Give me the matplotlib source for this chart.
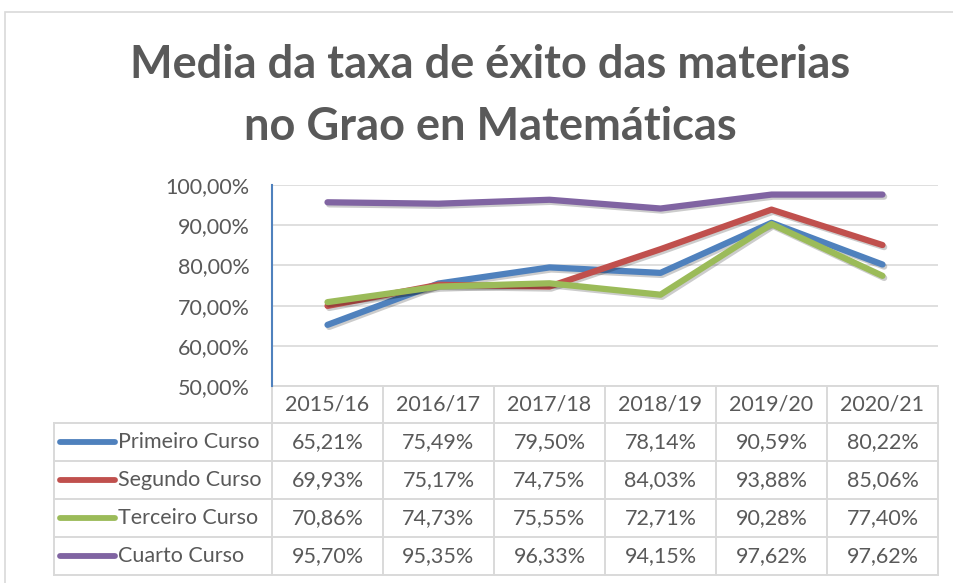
import matplotlib
matplotlib.use("Agg")
import matplotlib.pyplot as plt
import matplotlib.patheffects as pe
from matplotlib.lines import Line2D
from matplotlib.patches import Rectangle

categories = ["2015/16", "2016/17", "2017/18", "2018/19", "2019/20", "2020/21"]
series_names = ["Primeiro Curso", "Segundo Curso", "Terceiro Curso", "Cuarto Curso"]
primeiro = [65.21, 75.49, 79.50, 78.14, 90.59, 80.22]
segundo = [69.93, 75.17, 74.75, 84.03, 93.88, 85.06]
terceiro = [70.86, 74.73, 75.55, 72.71, 90.28, 77.40]
cuarto = [95.70, 95.35, 96.33, 94.15, 97.62, 97.62]
yticks = [50, 60, 70, 80, 90, 100]
colors = ["#4F81BD", "#C0504D", "#9BBB59", "#8064A2"]

series = [primeiro, segundo, terceiro, cuarto]

def fmt(v):
    return f"{v:.2f}".replace(".", ",") + "%"

W, H = 954, 583
fig = plt.figure(figsize=(W / 100, H / 100), dpi=100)
fig.patch.set_facecolor("white")

# outer chart border
fig.add_artist(Rectangle((5 / W, -0.1), 1.2, (H - 12) / H + 0.1, transform=fig.transFigure,
                         fill=False, edgecolor="#D9D9D9", linewidth=1.2))

L, R, T, B = 272, 938, 185, 386
ax = fig.add_axes([L / W, 1 - B / H, (R - L) / W, (B - T) / H])
ax.set_xlim(-0.5, len(categories) - 0.5)
ax.set_ylim(50, 100)
ax.set_yticks(yticks)
ax.set_yticklabels([fmt(v) for v in yticks])
ax.set_xticks([])
ax.grid(axis="y", color="#D9D9D9", linewidth=1.2)
ax.set_axisbelow(True)
for s in ["top", "right", "bottom"]:
    ax.spines[s].set_visible(False)
ax.spines["left"].set_color("#4F81BD")
ax.spines["left"].set_linewidth(1.5)
ax.tick_params(axis="y", length=0, pad=16, labelsize=15.5, labelcolor="#595959")
for lab in ax.get_yticklabels():
    lab.set_fontfamily("Lato")

x = list(range(len(categories)))
for vals, c in zip(series, colors):
    ax.plot(x, vals, color=c, linewidth=4.5, solid_capstyle="round", solid_joinstyle="round",
            path_effects=[pe.SimpleLineShadow(offset=(1.2, -1.5), shadow_color="black", alpha=0.2),
                          pe.Normal()])

# Data table
row_edges = [0, -0.184, -0.373, -0.562, -0.751, -0.940]
left_x = (54 - L) / (R - L)
grid_c = "#D9D9D9"
trans = ax.get_xaxis_transform()
ax.plot([-0.5, len(categories) - 0.5], [0, 0], transform=trans, color=grid_c, lw=1.4, clip_on=False)
for y in row_edges[1:]:
    ax.add_artist(Line2D([left_x, 1], [y, y], transform=ax.transAxes, color=grid_c, lw=1.4, clip_on=False))
for k in range(len(categories) + 1):
    ax.plot([k - 0.5, k - 0.5], [0, row_edges[-1]], transform=trans, color=grid_c, lw=1.4, clip_on=False)
ax.add_artist(Line2D([left_x, left_x], [row_edges[1], row_edges[-1]], transform=ax.transAxes,
                     color=grid_c, lw=1.4, clip_on=False))

txt_kw = dict(fontsize=15.5, color="#595959", family="Lato", clip_on=False)
for k, cat in enumerate(categories):
    ax.text(k, (row_edges[0] + row_edges[1]) / 2, cat, transform=trans, ha="center", va="center", **txt_kw)
for r, (name, vals, c) in enumerate(zip(series_names, series, colors)):
    yc = (row_edges[r + 1] + row_edges[r + 2]) / 2
    ax.add_artist(Line2D([(60 - L) / (R - L), (115 - L) / (R - L)], [yc, yc], transform=ax.transAxes,
                         color=c, lw=4.2, solid_capstyle="round", clip_on=False))
    ax.text((118 - L) / (R - L), yc, name, transform=ax.transAxes, ha="left", va="center", **txt_kw)
    for k, v in enumerate(vals):
        ax.text(k, yc, fmt(v), transform=trans, ha="center", va="center", **txt_kw)

fig.text(490 / W, 1 - 65 / H, "Media da taxa de éxito das materias", ha="center", va="center",
         fontsize=32.5, fontweight="bold", color="#595959", family="Lato")
fig.text(490 / W, 1 - 127 / H, "no Grao en Matemáticas", ha="center", va="center",
         fontsize=32.5, fontweight="bold", color="#595959", family="Lato")

fig.savefig("out.png", dpi=100, facecolor="white")
